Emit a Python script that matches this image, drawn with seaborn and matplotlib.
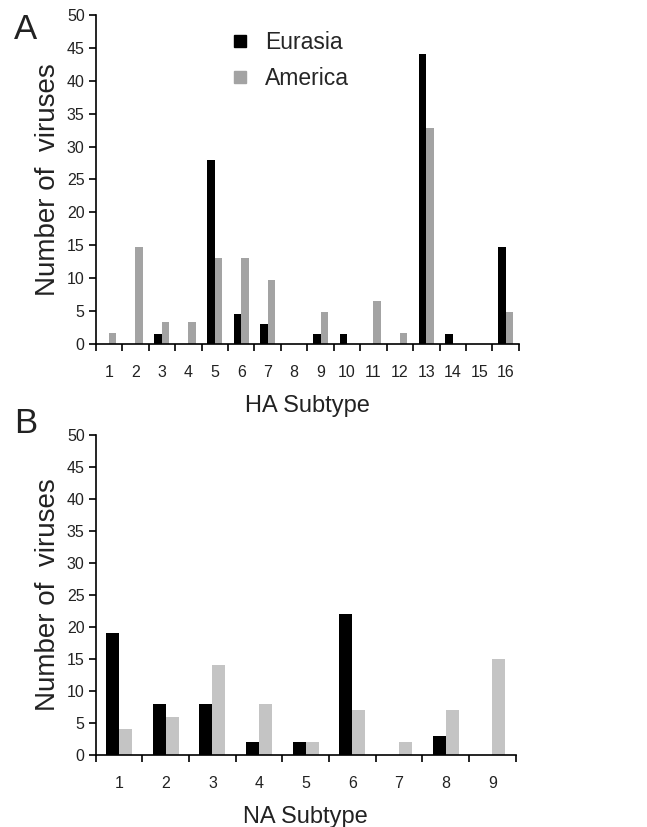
import matplotlib
matplotlib.use("Agg")
import matplotlib.pyplot as plt
from matplotlib.lines import Line2D
import seaborn as sns
import pandas as pd
import numpy as np

ha_subtypes = [str(i) for i in range(1, 17)]
ha_eurasia = [0, 0, 1.5, 0, 28, 4.5, 3, 0, 1.5, 1.5, 0, 0, 44, 1.5, 0, 14.7]
ha_america = [1.6, 14.7, 3.3, 3.3, 13.1, 13.1, 9.8, 0, 4.9, 0, 6.5, 1.6, 32.8, 0, 0, 4.9]

na_subtypes = [str(i) for i in range(1, 10)]
na_eurasia = [19, 8, 8, 2, 2, 22, 0, 3, 0]
na_america = [4, 6, 14, 8, 2, 7, 2, 7, 15]

regions = ["Eurasia", "America"]
yticks = list(range(0, 51, 5))

sns.set_theme(style="white")
plt.rcParams['font.family'] = ['Liberation Sans', 'DejaVu Sans']

def long_df(subs, eu, am):
    return pd.DataFrame({
        "subtype": subs * 2,
        "region": [regions[0]] * len(subs) + [regions[1]] * len(subs),
        "count": list(eu) + list(am),
    })

fig = plt.figure(figsize=(6.47, 8.27), dpi=100)
ax1 = fig.add_axes([0.148, 0.584, 0.654, 0.398])
ax2 = fig.add_axes([0.148, 0.087, 0.649, 0.387])

def draw(ax, subs, eu, am, grey, xlabel):
    df = long_df(subs, eu, am)
    sns.barplot(data=df, x="subtype", y="count", hue="region", order=subs,
                hue_order=regions, palette={regions[0]: "black", regions[1]: grey},
                width=0.56, linewidth=0, saturation=1, ax=ax, legend=False)
    n = len(subs)
    ax.set_xlim(-0.5, n - 0.5)
    ax.set_ylim(0, 50)
    ax.set_yticks(yticks)
    ax.set_yticklabels([str(t) for t in yticks], fontsize=11.5)
    ax.set_xticks(np.arange(n))
    ax.set_xticklabels(subs, fontsize=11.5)
    ax.set_xticks(np.arange(n + 1) - 0.5, minor=True)
    ax.tick_params(axis="x", which="major", length=0, pad=15, colors="#222222")
    ax.tick_params(axis="x", which="minor", length=5, width=1.2, direction="out",
                   bottom=True, color="black")
    ax.tick_params(axis="y", which="major", length=5, width=1.2, direction="out",
                   left=True, pad=3, color="black", labelcolor="#222222")
    for s in ["top", "right"]:
        ax.spines[s].set_visible(False)
    for s in ["left", "bottom"]:
        ax.spines[s].set_color("black")
        ax.spines[s].set_linewidth(1.2)
    ax.set_xlabel(xlabel, fontsize=17, labelpad=11, color="#222222")
    ax.set_ylabel("Number of  viruses", fontsize=20, labelpad=4, color="#222222")

draw(ax1, ha_subtypes, ha_eurasia, ha_america, "#a3a3a3", "HA Subtype")
draw(ax2, na_subtypes, na_eurasia, na_america, "#c4c4c4", "NA Subtype")

handles = [Line2D([], [], marker="s", linestyle="none", markersize=8, color="black"),
           Line2D([], [], marker="s", linestyle="none", markersize=8, color="#a3a3a3")]
ax1.legend(handles, regions, loc="upper left", bbox_to_anchor=(0.265, 1.015),
           frameon=False, fontsize=16.5, handletextpad=0.6, labelspacing=0.6,
           handlelength=1.0)

fig.text(0.022, 0.984, "A", fontsize=25, va="top", ha="left", color="#222222")
fig.text(0.022, 0.508, "B", fontsize=25, va="top", ha="left", color="#222222")

fig.savefig("out.png", dpi=100)
